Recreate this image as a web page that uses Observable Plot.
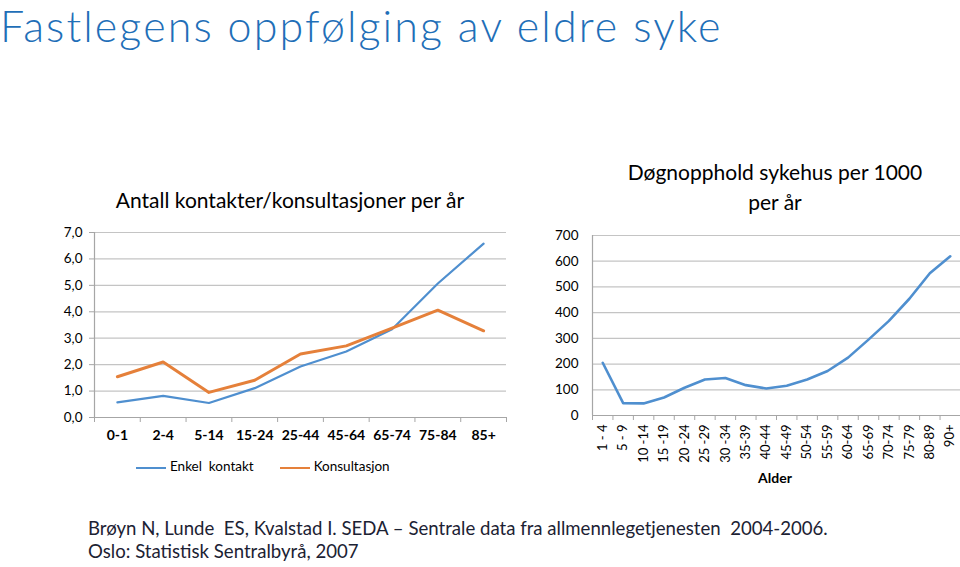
<!DOCTYPE html>
<html><head><meta charset="utf-8">
<script src="https://cdn.jsdelivr.net/npm/d3@7"></script>
<script src="https://cdn.jsdelivr.net/npm/@observablehq/plot@0.6"></script>
<style>
body{margin:0;background:#fff;}
#page{position:relative;width:960px;height:567px;overflow:hidden;font-family:Lato,"Open Sans",sans-serif;color:#000;}
.abs{position:absolute;white-space:nowrap;}
#title{left:0;top:0;font-size:43px;line-height:52px;letter-spacing:2.1px;font-weight:300;color:#1f6fb8;}
#ltitle{left:0;width:580px;top:186px;text-align:center;font-size:21px;line-height:28px;}
#rtitle{left:590px;width:370px;top:157px;text-align:center;font-size:21px;line-height:30px;}
#legend{left:136px;top:458px;font-size:13.5px;}
#legend span.sw{display:inline-block;width:30px;height:0;border-top:2px solid;vertical-align:middle;margin-right:4px;}
#alder{left:740px;width:70px;text-align:center;top:469px;font-size:14px;font-weight:bold;}
#caption{left:88px;top:517px;font-size:18.6px;line-height:23px;color:#1c2233;}
</style></head><body><div id="page">
<div id="title" class="abs">Fastlegens oppfølging av eldre syke</div>
<div id="ltitle" class="abs">Antall kontakter/konsultasjoner per år</div>
<div id="rtitle" class="abs">Døgnopphold sykehus per 1000<br>per år</div>
<div id="left" class="abs" style="left:0;top:220px;"></div>
<div id="right" class="abs" style="left:540px;top:222px;"></div>
<div id="legend" class="abs"></div>
<div id="alder" class="abs">Alder</div>
<div id="caption" class="abs">Brøyn N, Lunde&nbsp; ES, Kvalstad I. SEDA – Sentrale data fra allmennlegetjenesten&nbsp; 2004-2006.<br>Oslo: Statistisk Sentralbyrå, 2007</div>
</div>
<script>
// ---- Data ----
const gpAgeGroups = ["0-1","2-4","5-14","15-24","25-44","45-64","65-74","75-84","85+"];
const enkelKontakt = [0.57,0.82,0.55,1.11,1.93,2.50,3.34,5.07,6.58];
const konsultasjon = [1.54,2.10,0.95,1.41,2.40,2.71,3.38,4.06,3.28];
const gpYTicks = [0,1,2,3,4,5,6,7];
const seriesNames = ["Enkel  kontakt","Konsultasjon"];
const seriesColors = ["#4f8fcf","#e5803a"];

const hospAgeGroups = ["1 - 4","5 - 9","10 -14","15 -19","20 -24","25 -29","30 -34","35-39","40-44","45-49","50-54","55-59","60-64","65-69","70-74","75-79","80-89","90+"];
const hospStays = [205,48,47,70,108,140,146,118,105,116,140,173,225,295,368,454,553,619];
const hospYTicks = [0,100,200,300,400,500,600,700];

const font = "Lato, 'Open Sans', sans-serif";
const grid = "#c4c4c4", axisCol = "#a6a6a6";
const comma = d => d3.format(".1f")(d).replace(".", ",");

// ---- Left chart ----
const gpRows = [];
gpAgeGroups.forEach((g,i)=>{ gpRows.push({i, v: enkelKontakt[i], s: seriesNames[0]}); });
gpAgeGroups.forEach((g,i)=>{ gpRows.push({i, v: konsultasjon[i], s: seriesNames[1]}); });
const gpIdx = gpAgeGroups.map((_,i)=>i);
const gpBounds = d3.range(gpAgeGroups.length+1).map(k=>k-0.5);

const left = Plot.plot({
  width: 520, height: 230,
  marginLeft: 94, marginRight: 14, marginTop: 12, marginBottom: 33,
  style: {fontFamily: font, fontSize: "13.5px", color: "#000", background: "transparent", overflow: "visible"},
  x: {type: "linear", domain: [-0.5, gpAgeGroups.length-0.5], axis: null},
  y: {domain: [0,7], axis: null},
  marks: [
    Plot.ruleY(gpYTicks.slice(1), {stroke: grid, strokeWidth: 1.2}),
    Plot.ruleY([0], {stroke: axisCol, strokeWidth: 1.2}),
    Plot.ruleX([-0.5], {stroke: axisCol, strokeWidth: 1.2}),
    Plot.axisY({ticks: gpYTicks, tickFormat: comma, tickSize: 5, tickPadding: 7, stroke: axisCol, fill: "#000", label: null}),
    Plot.axisX({ticks: gpBounds, tickFormat: () => "", tickSize: 5, stroke: axisCol, label: null}),
    Plot.axisX({ticks: gpIdx, tickFormat: i => gpAgeGroups[i], tickSize: 0, tickPadding: 13, fontWeight: "bold", fontSize: 14, fill: "#000", label: null}),
    Plot.line(gpRows.filter(d=>d.s===seriesNames[0]), {x: "i", y: "v", stroke: seriesColors[0], strokeWidth: 2.2}),
    Plot.line(gpRows.filter(d=>d.s===seriesNames[1]), {x: "i", y: "v", stroke: seriesColors[1], strokeWidth: 3})
  ]
});
document.getElementById("left").appendChild(left);

// legend
const lg = document.getElementById("legend");
lg.innerHTML = seriesNames.map((n,k)=>`<span style="margin-right:${k===0?26:0}px"><span class="sw" style="border-color:${seriesColors[k]}"></span>${n.replace("  ","&nbsp; ")}</span>`).join("");

// ---- Right chart ----
const hospRows = hospAgeGroups.map((g,i)=>({i, v: hospStays[i]}));
const hIdx = hospAgeGroups.map((_,i)=>i);
const hBounds = d3.range(hospAgeGroups.length+1).map(k=>k-0.5);
const right = Plot.plot({
  width: 420, height: 250,
  marginLeft: 52, marginRight: 0, marginTop: 13, marginBottom: 57,
  style: {fontFamily: font, fontSize: "13px", color: "#000", background: "transparent", overflow: "visible"},
  x: {type: "linear", domain: [-0.5, hospAgeGroups.length-0.5], axis: null},
  y: {domain: [0,700], axis: null},
  marks: [
    Plot.ruleY(hospYTicks.slice(1), {stroke: grid, strokeWidth: 1.2}),
    Plot.ruleY([0], {stroke: axisCol, strokeWidth: 1.2}),
    Plot.ruleX([-0.5], {stroke: axisCol, strokeWidth: 1.2}),
    Plot.axisY({ticks: hospYTicks, tickSize: 0, tickPadding: 14, fontSize: 13.5, fill: "#000", label: null}),
    Plot.axisX({ticks: hBounds, tickFormat: () => "", tickSize: 5, stroke: axisCol, label: null}),
    Plot.axisX({ticks: hIdx, tickFormat: i => hospAgeGroups[i], tickRotate: -90, tickSize: 0, tickPadding: 9, fill: "#000", label: null}),
    Plot.line(hospRows, {x: "i", y: "v", stroke: seriesColors[0], strokeWidth: 2.6})
  ]
});
document.getElementById("right").appendChild(right);
</script>
</body></html>
